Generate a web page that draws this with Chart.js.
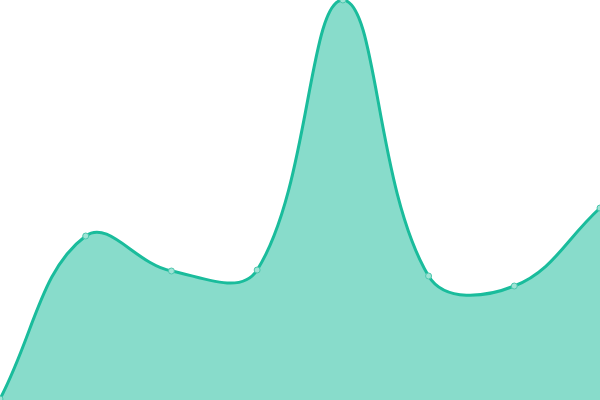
<!DOCTYPE html>
<html>
<head>
<meta charset="utf-8">
<script src="https://cdn.jsdelivr.net/npm/chart.js@4/dist/chart.umd.min.js"></script>
<style>
  html, body { margin: 0; padding: 0; background: #fff; }
  #wrap { width: 600px; height: 400px; position: relative; }
</style>
</head>
<body>
<div id="wrap"><canvas id="areaChart"></canvas></div>
<script>
// data
const labels = ['1', '2', '3', '4', '5', '6', '7', '8'];
const values = [1, 164, 129, 130, 400, 124, 114, 192];

const lineColor = '#1abc9c';
const fillColor = 'rgba(26,188,156,0.52)';

new Chart(document.getElementById('areaChart'), {
  type: 'line',
  data: {
    labels,
    datasets: [{
      data: values,
      borderColor: lineColor,
      backgroundColor: fillColor,
      borderWidth: 3,
      fill: true,
      tension: 0.4,
      pointRadius: 3,
      pointBorderWidth: 1,
      pointBackgroundColor: '#9fe3d5',
      pointBorderColor: '#4cc6ad',
    }],
  },
  options: {
    responsive: true,
    maintainAspectRatio: false,
    animation: false,
    layout: { padding: 0, autoPadding: false },
    plugins: { legend: { display: false }, tooltip: { enabled: false } },
    scales: {
      x: { display: false },
      y: { display: false, min: 0, max: 400 },
    },
  },
});
</script>
</body>
</html>
